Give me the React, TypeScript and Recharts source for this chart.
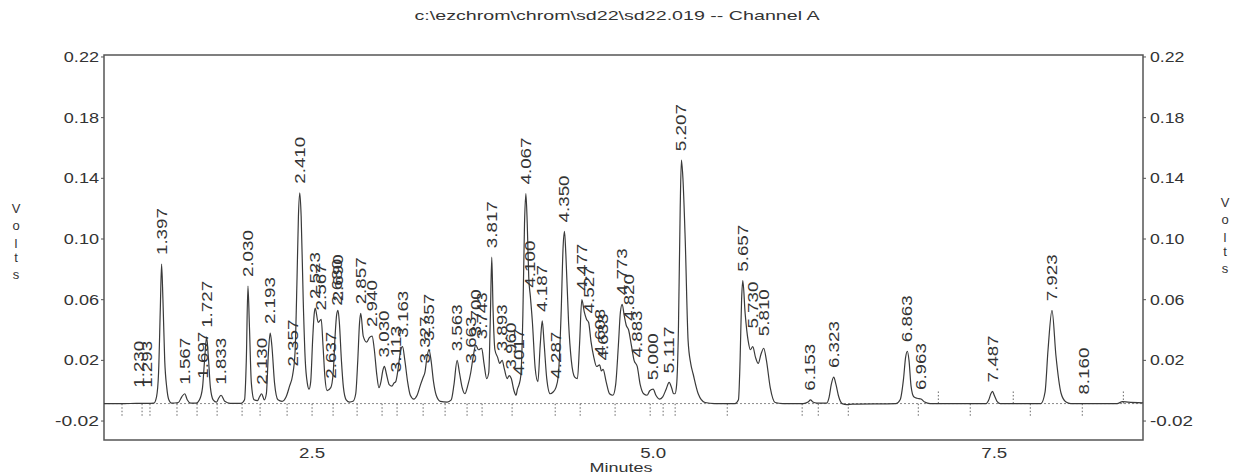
import { ComposedChart, Line, Scatter, XAxis, YAxis, ReferenceLine, ReferenceArea } from 'recharts';

const FONT = '"Liberation Sans", Arial, sans-serif';
const INK = '#333';

const X_MIN = 0.975;
const X_MAX = 8.59;
const Y_MIN = -0.0325;
const Y_MAX = 0.2213;
const BASELINE = -0.0085;

const xTicks = [2.5, 5.0, 7.5];
const yTicks = [0.22, 0.18, 0.14, 0.1, 0.06, 0.02, -0.02];

// detector trace, [minutes, volts]
const trace1 = [
  [0.975, -0.0085], [1.1, -0.0085], [1.23, -0.0084], [1.293, -0.0084], [1.34, -0.0082], [1.36, -0.004],
  [1.375, 0.012], [1.388, 0.055], [1.397, 0.0835], [1.407, 0.06], [1.42, 0.02], [1.435, 0.002],
  [1.45, -0.006], [1.47, -0.0082], [1.52, -0.0078], [1.545, -0.004], [1.567, -0.002], [1.585, -0.006],
  [1.61, -0.0082], [1.65, -0.0082], [1.675, -0.006], [1.697, 0.002], [1.712, 0.02], [1.727, 0.0355],
  [1.74, 0.022], [1.755, 0.002], [1.775, -0.006], [1.8, -0.0075], [1.815, -0.005], [1.833, -0.003],
  [1.86, -0.007], [1.9, -0.0083], [1.98, -0.0083],
];
const trace2 = [
  [2.005, -0.006], [2.018, 0.02], [2.03, 0.069], [2.04, 0.045], [2.055, 0.005], [2.075, -0.006],
  [2.1, -0.0065], [2.115, -0.004], [2.13, -0.002], [2.15, -0.006], [2.165, -0.002], [2.18, 0.025],
  [2.193, 0.038], [2.205, 0.03], [2.225, 0.005], [2.25, -0.006], [2.28, -0.007], [2.31, -0.004],
  [2.335, 0.003], [2.357, 0.01], [2.375, 0.025], [2.39, 0.075], [2.4, 0.115], [2.41, 0.1305],
  [2.42, 0.115], [2.435, 0.06], [2.45, 0.02], [2.465, 0.005], [2.478, 0.001],
];
const trace3 = [
  [2.49, 0.006], [2.505, 0.035], [2.515, 0.05], [2.523, 0.0545], [2.545, 0.045], [2.567, 0.047],
  [2.58, 0.03], [2.595, 0.008], [2.61, 0.0], [2.637, 0.002], [2.655, 0.012], [2.668, 0.035],
  [2.68, 0.05], [2.69, 0.053], [2.7, 0.045], [2.715, 0.02], [2.73, 0.002], [2.75, -0.006],
  [2.775, -0.0075], [2.8, -0.007], [2.82, -0.002], [2.835, 0.02], [2.848, 0.045], [2.857, 0.051],
  [2.875, 0.036], [2.9, 0.032], [2.92, 0.035], [2.94, 0.036], [2.955, 0.028], [2.975, 0.01], [2.99, 0.002],
];
const trace4 = [
  [3.005, 0.006], [3.018, 0.013], [3.03, 0.016], [3.045, 0.011], [3.065, 0.004], [3.085, 0.003],
  [3.1, 0.005], [3.113, 0.006], [3.13, 0.014], [3.148, 0.026], [3.163, 0.029], [3.18, 0.02],
  [3.2, 0.006], [3.22, -0.003], [3.245, -0.0055], [3.27, -0.003], [3.295, 0.004], [3.315, 0.009],
  [3.327, 0.012], [3.342, 0.022], [3.357, 0.027], [3.372, 0.02], [3.39, 0.006], [3.41, -0.003],
  [3.44, -0.007], [3.49, -0.0075], [3.52, -0.006], [3.54, 0.004], [3.563, 0.02], [3.58, 0.012],
  [3.6, 0.002], [3.62, -0.002], [3.64, 0.003], [3.663, 0.012], [3.68, 0.022], [3.7, 0.03],
  [3.72, 0.027], [3.743, 0.028], [3.76, 0.018], [3.78, 0.008], [3.795, 0.012], [3.807, 0.05],
  [3.817, 0.088], [3.826, 0.055], [3.84, 0.027], [3.86, 0.022], [3.875, 0.018], [3.893, 0.02],
  [3.91, 0.014], [3.93, 0.008], [3.945, 0.01], [3.96, 0.008], [3.98, 0.0], [3.995, -0.003],
  [4.005, 0.001], [4.017, 0.004], [4.03, 0.01], [4.045, 0.05], [4.057, 0.11], [4.067, 0.13],
  [4.077, 0.11], [4.088, 0.075], [4.1, 0.062], [4.115, 0.045], [4.135, 0.015],
];
const trace5 = [
  [4.155, 0.006], [4.172, 0.03], [4.187, 0.046], [4.2, 0.032], [4.22, 0.008], [4.245, -0.002],
  [4.265, -0.001], [4.287, 0.002], [4.305, 0.01], [4.325, 0.05], [4.34, 0.095], [4.35, 0.105],
  [4.36, 0.09], [4.38, 0.045], [4.4, 0.02], [4.425, 0.009], [4.445, 0.008], [4.46, 0.03],
  [4.477, 0.06], [4.495, 0.052], [4.512, 0.047], [4.527, 0.045], [4.545, 0.032], [4.565, 0.022],
  [4.585, 0.016], [4.608, 0.017], [4.62, 0.013], [4.633, 0.014], [4.655, 0.006], [4.68, -0.002],
  [4.705, -0.003], [4.725, 0.004], [4.745, 0.03], [4.76, 0.052], [4.773, 0.057], [4.787, 0.05],
  [4.803, 0.043], [4.82, 0.04], [4.84, 0.03], [4.86, 0.02], [4.883, 0.016], [4.905, 0.004],
  [4.93, -0.002], [4.955, -0.003], [4.975, 0.0], [5.0, 0.001], [5.02, -0.003], [5.045, -0.0055],
  [5.07, -0.004], [5.095, 0.001], [5.117, 0.0055], [5.135, 0.002], [5.15, -0.002],
];
const trace6 = [
  [5.16, -0.002], [5.172, 0.004], [5.185, 0.04], [5.198, 0.12], [5.207, 0.152], [5.218, 0.14],
  [5.235, 0.099], [5.256, 0.033], [5.275, 0.018], [5.293, 0.011], [5.33, -0.002], [5.38, -0.0078],
  [5.45, -0.0085], [5.6, -0.0085], [5.625, -0.006], [5.637, 0.02], [5.648, 0.06], [5.657, 0.0725],
  [5.674, 0.051], [5.696, 0.033], [5.712, 0.027], [5.73, 0.029], [5.75, 0.022], [5.77, 0.018],
  [5.79, 0.024], [5.81, 0.028], [5.83, 0.02], [5.858, 0.002], [5.894, -0.0078], [5.95, -0.0085],
  [6.1, -0.0085], [6.135, -0.0075], [6.153, -0.006], [6.17, -0.0075], [6.2, -0.0082], [6.27, -0.0082],
  [6.29, -0.004], [6.305, 0.004], [6.323, 0.009], [6.34, 0.004], [6.36, -0.004], [6.385, -0.0085],
  [6.42, -0.0092], [6.46, -0.0088],
];
const trace7 = [
  [6.78, -0.0085], [6.81, -0.006], [6.835, 0.008], [6.85, 0.022], [6.863, 0.026], [6.875, 0.02],
  [6.89, 0.003], [6.91, -0.004], [6.935, -0.005], [6.963, -0.0055], [6.99, -0.0075], [7.03, -0.0085],
  [7.44, -0.0085], [7.46, -0.006], [7.475, -0.002], [7.487, -0.0005], [7.5, -0.003], [7.52, -0.007],
  [7.545, -0.0085], [7.842, -0.0085], [7.872, -0.001], [7.894, 0.027], [7.923, 0.053], [7.952, 0.023],
  [7.989, -0.0015], [8.026, -0.0075], [8.06, -0.0085], [8.16, -0.0085], [8.4, -0.0085], [8.44, -0.0072],
  [8.48, -0.0075], [8.59, -0.008],
];

// retention time labels and the signal level each one sits on
const peakLabels = [
  '1.230', '1.293', '1.397', '1.567', '1.697', '1.727', '1.833', '2.030', '2.130', '2.193',
  '2.357', '2.410', '2.523', '2.567', '2.637', '2.680', '2.690', '2.857', '2.940', '3.030',
  '3.113', '3.163', '3.327', '3.357', '3.563', '3.663', '3.700', '3.743', '3.817', '3.893',
  '3.960', '4.017', '4.067', '4.100', '4.187', '4.287', '4.350', '4.477', '4.527', '4.608',
  '4.633', '4.773', '4.820', '4.883', '5.000', '5.117', '5.207', '5.657', '5.730', '5.810',
  '6.153', '6.323', '6.863', '6.963', '7.487', '7.923', '8.160',
];
const peakVolts = [
  -0.004, -0.004, 0.0835, -0.002, 0.002, 0.0355, -0.002, 0.069, -0.002, 0.038,
  0.01, 0.1305, 0.0545, 0.047, 0.002, 0.05, 0.053, 0.051, 0.036, 0.016,
  0.006, 0.029, 0.012, 0.027, 0.02, 0.012, 0.03, 0.028, 0.088, 0.02,
  0.008, 0.004, 0.13, 0.062, 0.046, 0.002, 0.105, 0.06, 0.045, 0.017,
  0.014, 0.057, 0.04, 0.016, 0.001, 0.0055, 0.152, 0.0725, 0.035, 0.03,
  -0.006, 0.009, 0.026, -0.0055, -0.0005, 0.053, -0.0085,
];

// integration event marks along the baseline
const markerMinutes = [
  1.107, 1.254, 1.312, 1.51, 1.657, 1.804, 1.987, 2.119, 2.317, 2.5, 2.654, 2.83, 3.013, 3.123,
  3.314, 3.475, 3.636, 3.746, 3.966, 4.282, 4.465, 4.721, 4.978, 5.073, 5.161, 5.543, 6.092,
  6.21, 6.43, 6.943, 7.09, 7.324, 7.639, 7.764, 8.145, 8.446,
];
const markersAbove = [7.09, 7.639, 8.446];

const traceData = [...trace1, ...trace2, ...trace3, ...trace4, ...trace5, ...trace6, ...trace7].map(
  ([t, v]) => ({ t, v })
);
const peakData = peakLabels.map((label, i) => ({ t: parseFloat(label), v: peakVolts[i], label }));

function fmtY(v: number) {
  return v.toFixed(2);
}

function LeftTick({ x, y, payload }: any) {
  const s = fmtY(payload.value);
  return (
    <text x={x} y={y} dy={5} textAnchor="end" fontSize={14} fontFamily={FONT} fill={INK}
      textLength={s.length * 8.8} lengthAdjust="spacingAndGlyphs">
      {s}
    </text>
  );
}

function RightTick({ x, y, payload }: any) {
  const s = fmtY(payload.value);
  return (
    <text x={x + 2} y={y} dy={5} textAnchor="start" fontSize={14} fontFamily={FONT} fill={INK}
      textLength={s.length * 8.6} lengthAdjust="spacingAndGlyphs">
      {s}
    </text>
  );
}

function XTick({ x, y, payload }: any) {
  const s = Number(payload.value).toFixed(1);
  return (
    <text x={x} y={y} dy={10} textAnchor="middle" fontSize={14} fontFamily={FONT} fill={INK}
      textLength={26} lengthAdjust="spacingAndGlyphs">
      {s}
    </text>
  );
}

function PeakLabel({ cx, cy, payload }: any) {
  if (cx == null || cy == null) return null;
  const y0 = cy - 9;
  return (
    <text x={cx} y={y0} transform={`rotate(-90 ${cx} ${y0})`} dominantBaseline="central"
      fontSize={14} fontFamily={FONT} fill={INK}
      textLength={payload.label.length * 9.4} lengthAdjust="spacingAndGlyphs">
      {payload.label}
    </text>
  );
}

function Volts({ x, shift }: { x: number; shift: number }) {
  const letters = ['V', 'o', 'l', 't', 's'];
  const ys = [213, 230, 248, 262, 279];
  return (
    <g fontSize={13} fontFamily={FONT} fill={INK} textAnchor="middle">
      {letters.map((c, i) => (
        <text key={i} x={x} y={ys[i] + shift}>{c}</text>
      ))}
    </g>
  );
}

export default function App() {
  return (
    <div style={{ position: 'absolute', left: 0, top: 0, width: 1233, height: 474, background: '#fff' }}>
      <ComposedChart width={1233} height={474} margin={{ top: 55, right: 0, bottom: 0, left: 0 }}>
        <XAxis
          dataKey="t"
          type="number"
          domain={[X_MIN, X_MAX]}
          ticks={xTicks}
          allowDataOverflow
          axisLine={false}
          tickLine={false}
          height={34}
          tick={<XTick />}
        />
        <YAxis
          yAxisId="left"
          type="number"
          domain={[Y_MIN, Y_MAX]}
          ticks={yTicks}
          allowDataOverflow
          width={104}
          axisLine={false}
          tickSize={3}
          tickLine={{ stroke: '#555' }}
          tick={<LeftTick />}
        />
        <YAxis
          yAxisId="right"
          orientation="right"
          type="number"
          domain={[Y_MIN, Y_MAX]}
          ticks={yTicks}
          allowDataOverflow
          width={90}
          axisLine={false}
          tickSize={3}
          tickLine={{ stroke: '#555' }}
          tick={<RightTick />}
        />
        <ReferenceLine yAxisId="left" y={BASELINE} stroke="#888" strokeDasharray="2 2" />
        {markerMinutes.map((m) => {
          const up = markersAbove.includes(m);
          return (
            <ReferenceLine
              key={m}
              yAxisId="left"
              segment={[{ x: m, y: up ? BASELINE + 0.008 : BASELINE - 0.008 }, { x: m, y: BASELINE }]}
              stroke="#666"
              strokeDasharray="1.5 2"
            />
          );
        })}
        <Line
          yAxisId="left"
          data={traceData}
          dataKey="v"
          type="monotone"
          stroke="#3a3a3a"
          strokeWidth={1.2}
          dot={false}
          activeDot={false}
          isAnimationActive={false}
        />
        <Scatter
          yAxisId="left"
          data={peakData}
          dataKey="v"
          shape={(p: any) => <PeakLabel {...p} />}
          isAnimationActive={false}
        />
        <ReferenceArea
          yAxisId="left"
          x1={X_MIN}
          x2={X_MAX}
          y1={Y_MIN}
          y2={Y_MAX}
          fill="none"
          fillOpacity={0}
          stroke="#555"
          strokeWidth={1.5}
        />
      </ComposedChart>
      <svg width={1233} height={474} style={{ position: 'absolute', left: 0, top: 0, pointerEvents: 'none' }}>
        <text x={617} y={20} textAnchor="middle" fontSize={13} fontFamily={FONT} fill={INK}
          textLength={405} lengthAdjust="spacingAndGlyphs">
          c:\ezchrom\chrom\sd22\sd22.019 -- Channel A
        </text>
        <text x={621} y={472} textAnchor="middle" fontSize={13} fontFamily={FONT} fill={INK}
          textLength={63} lengthAdjust="spacingAndGlyphs">
          Minutes
        </text>
        <Volts x={16} shift={0} />
        <Volts x={1225} shift={-6} />
      </svg>
    </div>
  );
}
